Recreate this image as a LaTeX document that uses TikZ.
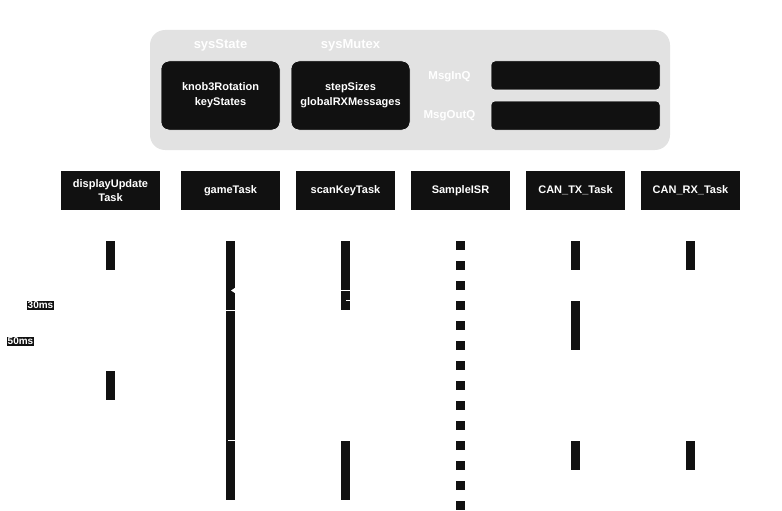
\documentclass[tikz,border=0pt]{standalone}
\usepackage{fontspec}
\setmainfont{Liberation Sans}
\usepackage{xcolor}
\definecolor{boxblack}{HTML}{111111}
\definecolor{panelgray}{HTML}{E2E2E2}
\usetikzlibrary{arrows.meta}

\tikzset{
  taskbox/.style={fill=boxblack, text=white, font=\bfseries\fontsize{11}{14}\selectfont,
    minimum width=99pt, minimum height=39pt, inner sep=0pt, align=center},
  varbox/.style={fill=boxblack, draw=white, line width=0.5pt, text=white, rounded corners=8pt,
    font=\bfseries\fontsize{11}{15}\selectfont, minimum width=119pt, minimum height=69pt,
    inner sep=0pt, align=center},
  queuebox/.style={fill=boxblack, draw=white, line width=0.5pt, rounded corners=4pt,
    minimum width=169pt, minimum height=29pt, inner sep=0pt},
  grouplabel/.style={text=white, font=\bfseries\fontsize{13}{15}\selectfont},
  qlabel/.style={text=white, font=\bfseries\fontsize{11.5}{14}\selectfont},
  timelabel/.style={fill=boxblack, text=white, font=\bfseries\fontsize{10}{11}\selectfont, inner sep=0.6pt},
  msg/.style={white, line width=1pt},
}

\begin{document}
\begin{tikzpicture}[x=1pt,y=-1pt,node distance=115pt]
    \useasboundingbox (0,0) rectangle (782,511);

    % shared resources
    \node[fill=panelgray, rounded corners=15pt, minimum width=520pt, minimum height=120pt] (panel) at (410,90) {};
    \node[varbox] (state) at (220.5,95.5) {knob3Rotation\\keyStates};
    \node[varbox] (mutex) [right of=state, node distance=130pt] {stepSizes\\globalRXMessages};
    \node[grouplabel] (statelbl) at (220.5,45) {sysState};
    \node[grouplabel] (mutexlbl) at (350.5,45) {sysMutex};
    \node[queuebox] (inq) at (575.5,75.5) {};
    \node[queuebox] (outq) at (575.5,115.5) {};
    \node[qlabel] (inqlbl) at (449.5,76.5) {MsgInQ};
    \node[qlabel] (outqlbl) at (449.5,116) {MsgOutQ};

    % tasks
    \node[taskbox] (game) at (230.5,190.5) {gameTask};
    \node[taskbox] (disp) [left of=game, node distance=120pt] {displayUpdate\\Task};
    \node[taskbox] (scan) [right of=game] {scanKeyTask};
    \node[taskbox] (isr) [right of=scan] {SampleISR};
    \node[taskbox] (cantx) [right of=isr] {CAN\_TX\_Task};
    \node[taskbox] (canrx) [right of=cantx] {CAN\_RX\_Task};

    % activations
    \foreach \x/\a/\b in {110.5/241/270, 110.5/371/400, 230.5/241/500, 345.5/241/310,
        345.5/441/500, 575.5/241/270, 575.5/301/350, 575.5/441/470, 690.5/241/270, 690.5/441/470}
        \fill[boxblack] ({\x-4.5},\a) rectangle ({\x+4.5},\b);
    \foreach \y in {241,261,...,501}
        \fill[boxblack] (456,\y) rectangle +(9,9);

    % periods
    \node[timelabel] (t30) at (40.5,305.5) {30ms};
    \node[timelabel] (t50) at (20.5,341.5) {50ms};

    % messages (white)
    \coordinate (s1) at (350,290.5);
    \coordinate (g1) at (231,290.5);
    \coordinate (g2) at (226,310.5);
    \coordinate (s2) at (341,310.5);
    \coordinate (s3) at (346,300.5);
    \coordinate (s4) at (350,300.5);
    \coordinate (g3) at (228,440.5);
    \coordinate (g4) at (235,440.5);
    \draw [msg,-{Triangle[length=4pt,width=5pt]}] (s1) -- (g1);
    \draw [msg] (g2) -- (s2);
    \draw [msg] (s3) -- (s4);
    \draw [msg] (g3) -- (g4);
\end{tikzpicture}
\end{document}
